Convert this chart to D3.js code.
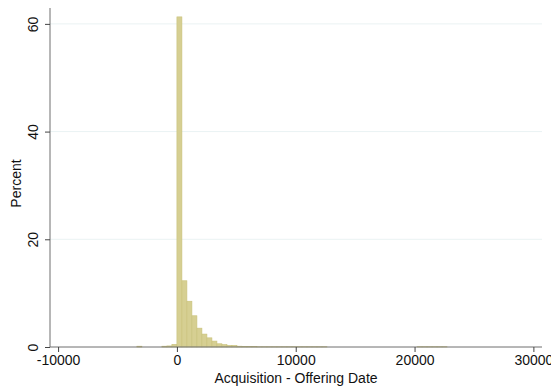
<!DOCTYPE html>
<html>
<head>
<meta charset="utf-8">
<script src="https://cdn.jsdelivr.net/npm/d3@7"></script>
<style>
  body { margin: 0; background: #fff; }
  text { font-family: "Liberation Sans", Arial, sans-serif; }
</style>
</head>
<body>
<svg id="chart"></svg>
<script>
// Histogram bins (start of each bin) and percent in each
const binWidth = 421;
const binStarts = [
  -3368, -1263, -842, -421,
  0, 421, 842, 1263, 1684, 2105, 2526, 2947, 3368, 3789,
  4210, 4631, 5052, 5473, 5894, 6315, 6736, 7157, 7578, 7999,
  8420, 8841, 9262, 9683, 10104, 10525, 10946, 11367, 11788, 12209,
  20208, 20629, 21050, 21471, 21892, 22313
];
const percents = [
  0.15, 0.15, 0.2, 0.5,
  61.3, 12.3, 8.5, 5.8, 3.5, 2.4, 1.7, 1.1, 0.6, 0.45,
  0.3, 0.3, 0.15, 0.1, 0.08, 0.06, 0.05, 0.05, 0.05, 0.05,
  0.05, 0.05, 0.05, 0.05, 0.05, 0.05, 0.05, 0.05, 0.05, 0.05,
  0.05, 0.05, 0.05, 0.05, 0.05, 0.05
];
const xTicks = [-10000, 0, 10000, 20000, 30000];
const yTicks = [0, 20, 40, 60];

const svgW = 551, svgH = 388;
const plot = { left: 50, right: 542, top: 8, bottom: 347 };

const svg = d3.select("#chart").attr("width", svgW).attr("height", svgH);

const x = d3.scaleLinear().domain([-10680, 30725]).range([plot.left, plot.right]);
const y = d3.scaleLinear().domain([0, 62.95]).range([plot.bottom, plot.top]);

// grid lines
svg.append("g")
  .selectAll("line")
  .data(yTicks.filter(d => d > 0))
  .join("line")
  .attr("x1", plot.left).attr("x2", plot.right)
  .attr("y1", d => y(d)).attr("y2", d => y(d))
  .attr("stroke", "#eaf2f3")
  .attr("stroke-width", 1);

// bars
svg.append("g")
  .selectAll("rect")
  .data(binStarts.map((s, i) => ({ s, v: percents[i] })))
  .join("rect")
  .attr("x", d => x(d.s))
  .attr("width", d => x(d.s + binWidth) - x(d.s))
  .attr("y", d => y(d.v))
  .attr("height", d => y(0) - y(d.v))
  .attr("fill", "#d6cf92")
  .attr("stroke", "#c9c27b")
  .attr("stroke-width", 0.6);

// y axis
const yAxis = svg.append("g")
  .attr("transform", `translate(${plot.left},0)`)
  .call(d3.axisLeft(y).tickValues(yTicks).tickSize(5).tickFormat(d => String(d)));
yAxis.select(".domain").attr("stroke", "#6e6e6e").attr("d", `M0,${plot.bottom}V${plot.top}`);
yAxis.selectAll(".tick line").attr("stroke", "#444");
yAxis.selectAll(".tick text")
  .attr("font-size", 14)
  .attr("fill", "#111")
  .attr("text-anchor", "middle")
  .attr("x", null).attr("dy", null)
  .attr("transform", "translate(-12,0) rotate(-90)");

// x axis
const xAxis = svg.append("g")
  .attr("transform", `translate(0,${plot.bottom})`)
  .call(d3.axisBottom(x).tickValues(xTicks).tickSize(5).tickPadding(3).tickFormat(d => String(d)));
xAxis.select(".domain").attr("stroke", "#6e6e6e").attr("d", `M${plot.left},0H${plot.right}`);
xAxis.selectAll(".tick line").attr("stroke", "#444");
xAxis.selectAll(".tick text").attr("font-size", 14).attr("fill", "#111");

// axis titles
svg.append("text")
  .attr("x", (plot.left + plot.right) / 2)
  .attr("y", 383)
  .attr("text-anchor", "middle")
  .attr("font-size", 14)
  .attr("fill", "#111")
  .text("Acquisition - Offering Date");

svg.append("text")
  .attr("transform", `translate(21,${(plot.top + plot.bottom) / 2 + 6}) rotate(-90)`)
  .attr("text-anchor", "middle")
  .attr("font-size", 14)
  .attr("fill", "#111")
  .text("Percent");
</script>
</body>
</html>
